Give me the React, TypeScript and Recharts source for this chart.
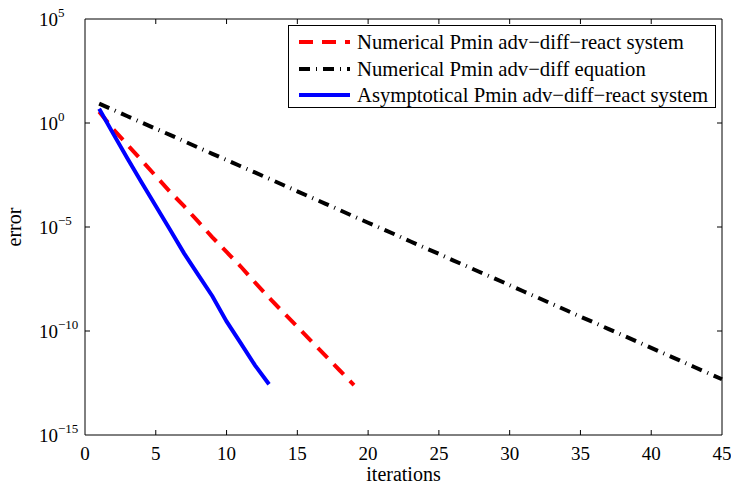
import React from 'react';
import { Legend, Line, LineChart, ReferenceLine, XAxis, YAxis } from 'recharts';

// iteration index for every row of the table
const iterations = [
  1, 2, 3, 4, 5, 6, 7, 8, 9, 10, 11, 12, 13, 14, 15, 16, 17, 18, 19, 20, 21, 22, 23,
  24, 25, 26, 27, 28, 29, 30, 31, 32, 33, 34, 35, 36, 37, 38, 39, 40, 41, 42, 43, 44, 45
];

// error values
const numericalReact = [
  3.5, 5.0e-1, 8.9e-2, 1.6e-2, 2.8e-3, 5.0e-4, 1.0e-4, 1.8e-5, 3.2e-6, 6.3e-7,
  1.26e-7, 2.2e-8, 4.0e-9, 7.9e-10, 1.6e-10, 3.2e-11, 6.3e-12, 1.26e-12, 2.5e-13
];

const numericalAdvDiff = [
  8.5, 4.3, 2.1, 1.06, 5.3e-1, 2.7e-1, 1.33e-1, 6.6e-2, 3.3e-2, 1.66e-2,
  8.3e-3, 4.2e-3, 2.1e-3, 1.04e-3, 5.2e-4, 2.6e-4, 1.3e-4, 6.5e-5, 3.2e-5, 1.6e-5,
  8.1e-6, 4.1e-6, 2.0e-6, 1.01e-6, 5.1e-7, 2.5e-7, 1.27e-7, 6.3e-8, 3.2e-8, 1.6e-8,
  7.9e-9, 4.0e-9, 2.0e-9, 9.9e-10, 4.9e-10, 2.5e-10, 1.23e-10, 6.2e-11, 3.1e-11, 1.54e-11,
  7.7e-12, 3.9e-12, 1.9e-12, 9.6e-13, 4.8e-13
];

const asymptoticalReact = [
  4.8, 3.0e-1, 1.95e-2, 1.38e-3, 1.02e-4, 7.6e-6, 5.4e-7, 5.0e-8, 4.7e-9, 2.9e-10,
  2.6e-11, 2.3e-12, 2.75e-13
];

const xTicks = [0, 5, 10, 15, 20, 25, 30, 35, 40, 45];
const yTicks = [1e-15, 1e-10, 1e-5, 1, 1e5];

const seriesNames = [
  'Numerical Pmin adv\u2212diff\u2212react system',
  'Numerical Pmin adv\u2212diff equation',
  'Asymptotical Pmin adv\u2212diff\u2212react system'
];

const data = iterations.map((it, i) => ({
  x: it,
  red: numericalReact[i] ?? null,
  black: numericalAdvDiff[i] ?? null,
  blue: asymptoticalReact[i] ?? null
}));

const W = 731;
const H = 487;
const LEFT = 85;
const RIGHT = 722;
const TOP = 19;
const BOTTOM = 435;
const FONT = '"Liberation Serif", "Times New Roman", serif';

const series = [
  { key: 'red', color: '#ff0000', dash: '14 9', name: seriesNames[0] },
  { key: 'black', color: '#000000', dash: '11 6 1 6', name: seriesNames[1] },
  { key: 'blue', color: '#0000ff', dash: undefined, name: seriesNames[2] }
];

function XTick(props: any) {
  const { x, payload } = props;
  const edge = payload.value === 0 || payload.value === 45;
  return (
    <g>
      {!edge && <line x1={x} y1={BOTTOM} x2={x} y2={BOTTOM - 5} stroke="#000" />}
      {!edge && <line x1={x} y1={TOP} x2={x} y2={TOP + 5} stroke="#000" />}
      <text x={x} y={BOTTOM + 25} textAnchor="middle" fontFamily={FONT} fontSize={19} fill="#000">
        {payload.value}
      </text>
    </g>
  );
}

function YTick(props: any) {
  const { y, payload } = props;
  const exp = Math.round(Math.log10(payload.value));
  const edge = exp === 5 || exp === -15;
  const sup = exp < 0 ? '\u2212' + Math.abs(exp) : String(exp);
  return (
    <g>
      {!edge && <line x1={LEFT} y1={y} x2={LEFT + 5} y2={y} stroke="#000" />}
      {!edge && <line x1={RIGHT - 5} y1={y} x2={RIGHT} y2={y} stroke="#000" />}
      <text x={39} y={y + 7} fontFamily={FONT} fontSize={19} fill="#000">
        10
        <tspan dy={-9} fontSize={13}>{sup}</tspan>
      </text>
    </g>
  );
}

function LegendBox() {
  const w = 428;
  const h = 83;
  const rows = [17, 44, 70];
  return (
    <svg width={w} height={h} style={{ display: 'block' }}>
      <rect x={0.5} y={0.5} width={w - 1} height={h - 1} fill="#fff" stroke="#000" />
      {series.map((s, i) => (
        <g key={s.key}>
          <line
            x1={11}
            y1={rows[i]}
            x2={62}
            y2={rows[i]}
            stroke={s.color}
            strokeWidth={4}
            strokeDasharray={s.dash}
          />
          <text x={69} y={rows[i] + 7} fontFamily={FONT} fontSize={20.7} fill="#000">
            {s.name}
          </text>
        </g>
      ))}
    </svg>
  );
}

export default function App() {
  return (
    <div style={{ position: 'absolute', left: 0, top: 0, width: W, height: H, background: '#fff' }}>
      <LineChart width={W} height={H} data={data} margin={{ top: TOP, right: W - RIGHT, bottom: 0, left: 0 }}>
        <XAxis
          type="number"
          dataKey="x"
          domain={[0, 45]}
          ticks={xTicks}
          interval={0}
          height={H - BOTTOM}
          tickLine={false}
          axisLine={{ stroke: '#000' }}
          tick={XTick}
          label={() => (
            <text x={(LEFT + RIGHT) / 2} y={481} textAnchor="middle" fontFamily={FONT} fontSize={20} fill="#000">
              iterations
            </text>
          )}
        />
        <YAxis
          type="number"
          scale="log"
          domain={[1e-15, 1e5]}
          allowDataOverflow
          ticks={yTicks}
          interval={0}
          width={LEFT}
          tickLine={false}
          axisLine={{ stroke: '#000' }}
          tick={YTick}
          label={() => (
            <text
              x={21}
              y={(TOP + BOTTOM) / 2}
              transform={`rotate(-90 21 ${(TOP + BOTTOM) / 2})`}
              textAnchor="middle"
              fontFamily={FONT}
              fontSize={20}
              fill="#000"
            >
              error
            </text>
          )}
        />
        <ReferenceLine y={1e5} stroke="#000" />
        <ReferenceLine x={45} stroke="#000" />
        {series.map((s) => (
          <Line
            key={s.key}
            type="linear"
            dataKey={s.key}
            name={s.name}
            stroke={s.color}
            strokeWidth={4}
            strokeDasharray={s.dash}
            dot={false}
            activeDot={false}
            isAnimationActive={false}
          />
        ))}
        <Legend
          layout="vertical"
          align="center"
          verticalAlign="middle"
          wrapperStyle={{ left: 288, top: 25, width: 428, height: 83 }}
          content={() => <LegendBox />}
        />
      </LineChart>
    </div>
  );
}
